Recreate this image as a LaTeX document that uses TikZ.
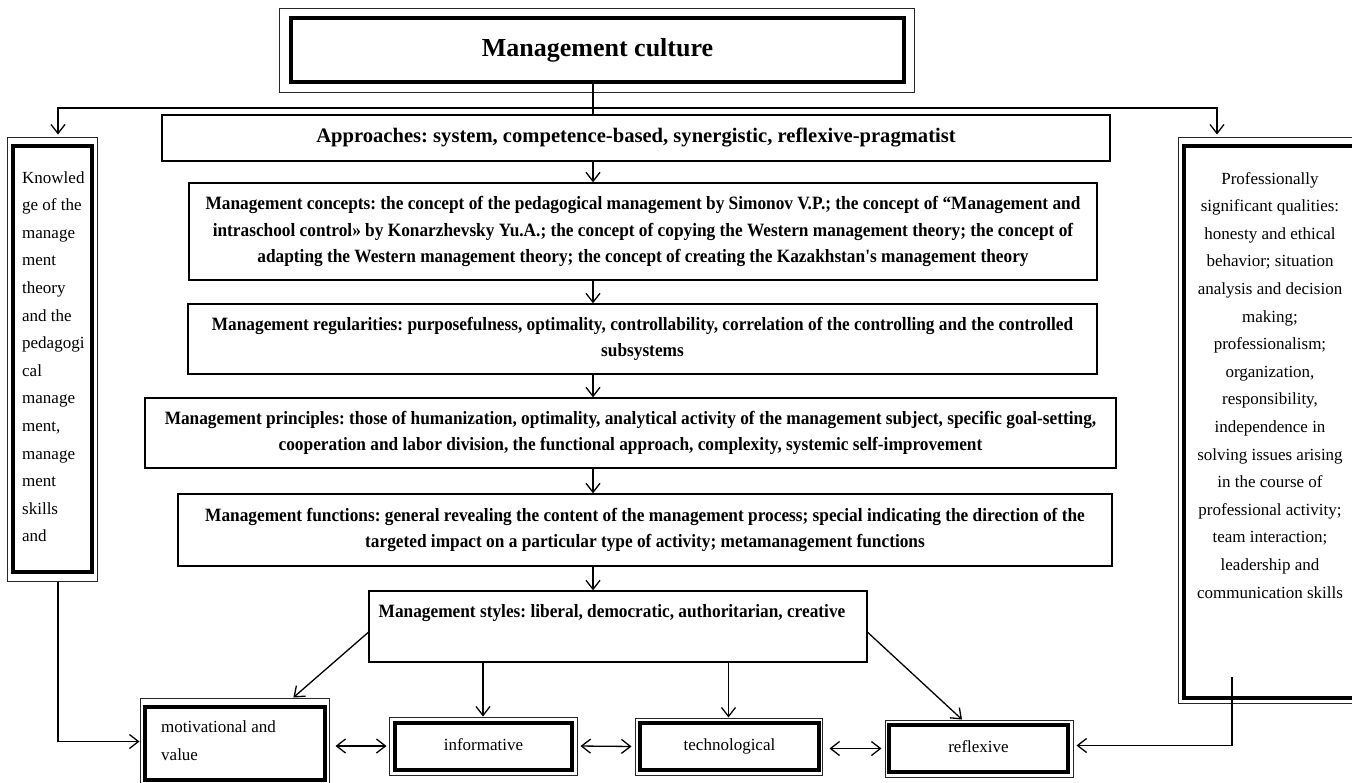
\documentclass[tikz,border=0pt]{standalone}
\usepackage{fontspec}
\setmainfont{Liberation Serif}
\newfontfamily\condserif[FakeStretch=0.92]{Liberation Serif}
\usetikzlibrary{arrows.meta,calc}
\frenchspacing
\begin{document}
\begin{tikzpicture}[x=1pt,y=-1pt,
  thinbox/.style={draw=black, line width=1.3pt, rectangle, inner sep=0pt},
  thickbox/.style={draw=black, line width=3.8pt, rectangle, inner sep=0pt},
  outerbox/.style={draw=black!85, line width=1pt, rectangle, inner sep=0pt},
  ctext/.style={font=\condserif\frenchspacing\bfseries\fontsize{18.8}{26.5}\selectfont, align=center},
  stext/.style={font=\fontsize{17}{27.6}\selectfont, inner sep=0pt},
  btext/.style={stext, text height=11.5pt, text depth=3.5pt},
  conn/.style={line width=1.3pt},
  arr/.style={conn, -{Straight Barb[length=9pt,width=14pt,line width=1.3pt]}},
  darr/.style={conn, {Straight Barb[length=9pt,width=14pt,line width=1.3pt]}-{Straight Barb[length=9pt,width=14pt,line width=1.3pt]}}
]
\useasboundingbox (0,0) rectangle (1352,782);
\clip (0,0) rectangle (1352,782);
\fill[white] (0,0) rectangle (1352,782);

% top box
\node[thickbox, minimum width=613pt, minimum height=64pt, font=\bfseries\fontsize{26}{30}\selectfont] (topI) at (597.5,50) {Management culture};
\node[outerbox, minimum width=635pt, minimum height=84pt] (topO) at (596.5,50) {};

% coordinates of the split line
\coordinate (split) at (593,108);
\coordinate (lcol) at (58,108);
\coordinate (rcol) at (1217,108);

% side boxes
\node[thickbox, minimum width=79pt, minimum height=426pt] (leftI) at (52.5,359) {};
\node[outerbox, minimum width=90pt, minimum height=444pt] (leftO) at (52,359) {};
\node[stext, anchor=base west, align=left] (leftT) at (22,541.8) {Knowled\\ge of the\\manage\\ment\\theory\\and the\\pedagogi\\cal\\manage\\ment,\\manage\\ment\\skills\\and};

\node[thickbox, minimum width=174pt, minimum height=552pt] (rightI) at (1271,422) {};
\node[outerbox, minimum width=188pt, minimum height=566pt] (rightO) at (1272,420) {};
\node[stext, anchor=base, align=center] (rightT) at (1270,598) {Professionally\\significant qualities:\\honesty and ethical\\behavior; situation\\analysis and decision\\making;\\professionalism;\\organization,\\responsibility,\\independence in\\solving issues arising\\in the course of\\professional activity;\\team interaction;\\leadership and\\communication skills};

% central column
\node[thinbox, ctext, font=\frenchspacing\bfseries\fontsize{20.6}{26.5}\selectfont, minimum width=948pt, minimum height=46pt] (appr) at (636,138) {Approaches: system, competence-based, synergistic, reflexive-pragmatist};
\node[thinbox, ctext, minimum width=908pt, minimum height=97pt] (conc) at (643,231.5) {Management concepts: the concept of the pedagogical management by Simonov V.P.; the concept of “Management and\\intraschool control» by Konarzhevsky Yu.A.; the concept of copying the Western management theory; the concept of\\adapting the Western management theory; the concept of creating the Kazakhstan's management theory};
\node[thinbox, ctext, minimum width=909pt, minimum height=70pt] (regu) at (642.5,339) {Management regularities: purposefulness, optimality, controllability, correlation of the controlling and the controlled\\subsystems};
\node[thinbox, ctext, minimum width=971pt, minimum height=70pt] (prin) at (630.5,433) {Management principles: those of humanization, optimality, analytical activity of the management subject, specific goal-setting,\\cooperation and labor division, the functional approach, complexity, systemic self-improvement};
\node[thinbox, ctext, minimum width=934pt, minimum height=72pt] (func) at (645,530) {Management functions: general revealing the content of the management process; special indicating the direction of the\\targeted impact on a particular type of activity; metamanagement functions};
\node[thinbox, minimum width=498pt, minimum height=71pt] (styl) at (618,626.5) {};
\node[ctext, inner sep=0pt] (stylT) at (612,613) {Management styles: liberal, democratic, authoritarian, creative};

% bottom boxes
\node[thickbox, minimum width=180pt, minimum height=73pt] (motI) at (235,743.5) {};
\node[outerbox, minimum width=189pt, minimum height=87pt] (motO) at (234.5,741.5) {};
\node[stext, anchor=base west, align=left] (motT) at (161,760) {motivational and\\value};

\node[thickbox, btext, minimum width=177pt, minimum height=47pt] (infI) at (483.5,746.5) {informative};
\node[outerbox, minimum width=188pt, minimum height=58pt] (infO) at (483,746) {};

\node[thickbox, btext, minimum width=179pt, minimum height=47pt] (tecI) at (729.5,746.5) {technological};
\node[outerbox, minimum width=187pt, minimum height=57pt] (tecO) at (728.5,746.5) {};

\node[thickbox, btext, minimum width=179pt, minimum height=47pt] (refI) at (978.5,748.5) {reflexive};
\node[outerbox, minimum width=188pt, minimum height=57pt] (refO) at (979,748.5) {};

% connectors
\draw[conn] (topI.south -| split) -- (appr.north -| split);
\draw[arr, shorten >=2pt] (split) -- (lcol) -- (lcol |- leftO.north);
\draw[arr, shorten >=2pt] (split) -- (rcol) -- (rcol |- rightO.north);

\draw[arr] (appr.south -| split) -- (conc.north -| split);
\draw[arr] (conc.south -| split) -- (regu.north -| split);
\draw[arr] (regu.south -| split) -- (prin.north -| split);
\draw[arr] (prin.south -| split) -- (func.north -| split);
\draw[arr] (func.south -| split) -- (styl.north -| split);

\draw[arr] ($(styl.north west)!0.58!(styl.south west)$) -- ($(motO.north west)!0.81!(motO.north east)$);
\draw[arr] (styl.south -| infO.north) -- (infO.north);
\draw[arr] (styl.south -| tecO.north) -- (tecO.north);
\draw[arr] ($(styl.north east)!0.58!(styl.south east)$) -- ($(refO.north west)!0.41!(refO.north east)$);

\draw[darr, shorten <=6pt, shorten >=2pt] (motO.east |- infO.west) -- (infO.west);
\draw[darr, shorten <=3pt, shorten >=3pt] (infO.east) -- (tecO.west);
\draw[darr, shorten <=7pt, shorten >=3pt] (tecO.east |- refO.west) -- (refO.west);

\draw[arr] (lcol |- leftO.south) -- (lcol |- motO.west) -- (motO.west);
\coordinate (rc) at (1232,677);
\draw[arr, shorten >=3pt] (rc) |- ($(refO.east)+(0,-3)$);
\end{tikzpicture}
\end{document}
